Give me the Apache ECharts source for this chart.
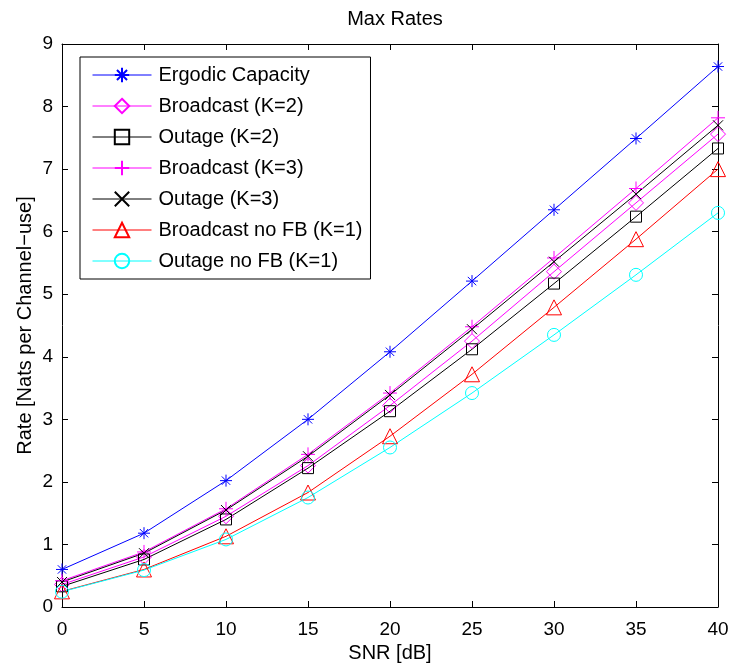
<!DOCTYPE html>
<html>
<head>
<meta charset="utf-8">
<script src="https://cdn.jsdelivr.net/npm/echarts@6/dist/echarts.min.js"></script>
<style>html,body{margin:0;padding:0;background:#fff}#c{width:734px;height:670px}</style>
</head>
<body>
<div id="c"></div>
<script>
const snr = [0, 5, 10, 15, 20, 25, 30, 35, 40];
const ergodic = [0.60, 1.18, 2.02, 3.00, 4.08, 5.21, 6.35, 7.49, 8.64];
const broadcastK2 = [0.36, 0.80, 1.45, 2.26, 3.22, 4.25, 5.36, 6.46, 7.56];
const outageK2 = [0.33, 0.76, 1.40, 2.22, 3.13, 4.12, 5.17, 6.24, 7.33];
const broadcastK3 = [0.42, 0.88, 1.57, 2.44, 3.42, 4.48, 5.58, 6.69, 7.82];
const outageK3 = [0.40, 0.86, 1.55, 2.41, 3.39, 4.44, 5.52, 6.60, 7.70];
const broadcastNoFB = [0.25, 0.60, 1.13, 1.83, 2.73, 3.72, 4.79, 5.88, 7.00];
const outageNoFB = [0.245, 0.59, 1.08, 1.75, 2.55, 3.42, 4.35, 5.31, 6.30];
const names = ['Ergodic Capacity', 'Broadcast (K=2)', 'Outage (K=2)', 'Broadcast (K=3)', 'Outage (K=3)', 'Broadcast no FB (K=1)', 'Outage no FB (K=1)'];
const yTicks = [0, 1, 2, 3, 4, 5, 6, 7, 8, 9];
const xTicks = [0, 5, 10, 15, 20, 25, 30, 35, 40];

const FONT = 'Liberation Sans';
const STAR = 'path://M0,-10L0,10M-10,0L10,0M-7,-7L7,7M-7,7L7,-7';
const PLUS = 'path://M0,-10L0,10M-10,0L10,0';
const CROSS = 'path://M-10,-10L10,10M-10,10L10,-10';

function mk(name, data, color, symbol, size) {
  return {
    name: name, type: 'line',
    data: snr.map((x, i) => [x, data[i]]),
    symbol: symbol, symbolSize: size,
    showAllSymbol: true,
    lineStyle: { color: color, width: 1 },
    itemStyle: { color: 'rgba(0,0,0,0)', borderColor: color, borderWidth: 1 },
    emphasis: { disabled: true },
    animation: false
  };
}

const chart = echarts.init(document.getElementById('c'), null, { renderer: 'canvas' });
const axisCommon = {
  axisLine: { show: true, onZero: false, lineStyle: { color: '#000', width: 1 } },
  axisTick: { show: true, inside: true, length: 6, lineStyle: { color: '#000' } },
  splitLine: { show: false }
};
chart.setOption({
  backgroundColor: '#fff',
  textStyle: { fontFamily: FONT },
  title: {
    text: 'Max Rates', left: 390, top: 4, textAlign: 'center',
    textStyle: { fontFamily: FONT, fontSize: 20, fontWeight: 'normal', color: '#000' }
  },
  grid: { left: 62, right: 16, top: 44, bottom: 63 },
  xAxis: [
    Object.assign({
      type: 'value', min: 0, max: 40, interval: 5, position: 'bottom',
      name: 'SNR [dB]', nameLocation: 'middle', nameGap: 34,
      nameTextStyle: { fontFamily: FONT, fontSize: 20, color: '#000' },
      axisLabel: { fontFamily: FONT, fontSize: 19, color: '#000', margin: 13,
        formatter: v => xTicks.includes(v) ? String(v) : '' }
    }, axisCommon),
    Object.assign({
      type: 'value', min: 0, max: 40, interval: 5, position: 'top',
      axisLabel: { show: false }
    }, axisCommon)
  ],
  yAxis: [
    Object.assign({
      type: 'value', min: 0, max: 9, interval: 1, position: 'left',
      name: 'Rate [Nats per Channel\u2212use]', nameLocation: 'middle', nameGap: 27,
      nameMoveOverlap: false,
      nameTextStyle: { fontFamily: FONT, fontSize: 20, color: '#000' },
      axisLabel: { fontFamily: FONT, fontSize: 19, color: '#000', margin: 9,
        formatter: v => yTicks.includes(v) ? String(v) : '' }
    }, axisCommon),
    Object.assign({
      type: 'value', min: 0, max: 9, interval: 1, position: 'right',
      axisLabel: { show: false }
    }, axisCommon)
  ],
  legend: {
    orient: 'vertical', left: 80, top: 57,
    data: names,
    backgroundColor: '#fff', borderColor: '#000', borderWidth: 1,
    padding: [8, 8, 8, 12],
    itemWidth: 59, itemHeight: 18, itemGap: 11,
    lineStyle: { width: 1 },
    textStyle: { fontFamily: FONT, fontSize: 20, color: '#000', padding: [0, 0, 0, 2] },
    selectedMode: false
  },
  series: [
    mk(names[0], ergodic, '#0000ff', STAR, 12),
    mk(names[1], broadcastK2, '#ff00ff', 'diamond', 15),
    mk(names[2], outageK2, '#000000', 'rect', 11),
    mk(names[3], broadcastK3, '#ff00ff', PLUS, 14),
    mk(names[4], outageK3, '#000000', CROSS, 10),
    mk(names[5], broadcastNoFB, '#ff0000', 'triangle', 15),
    mk(names[6], outageNoFB, '#00ffff', 'circle', 13)
  ]
});
</script>
</body>
</html>
